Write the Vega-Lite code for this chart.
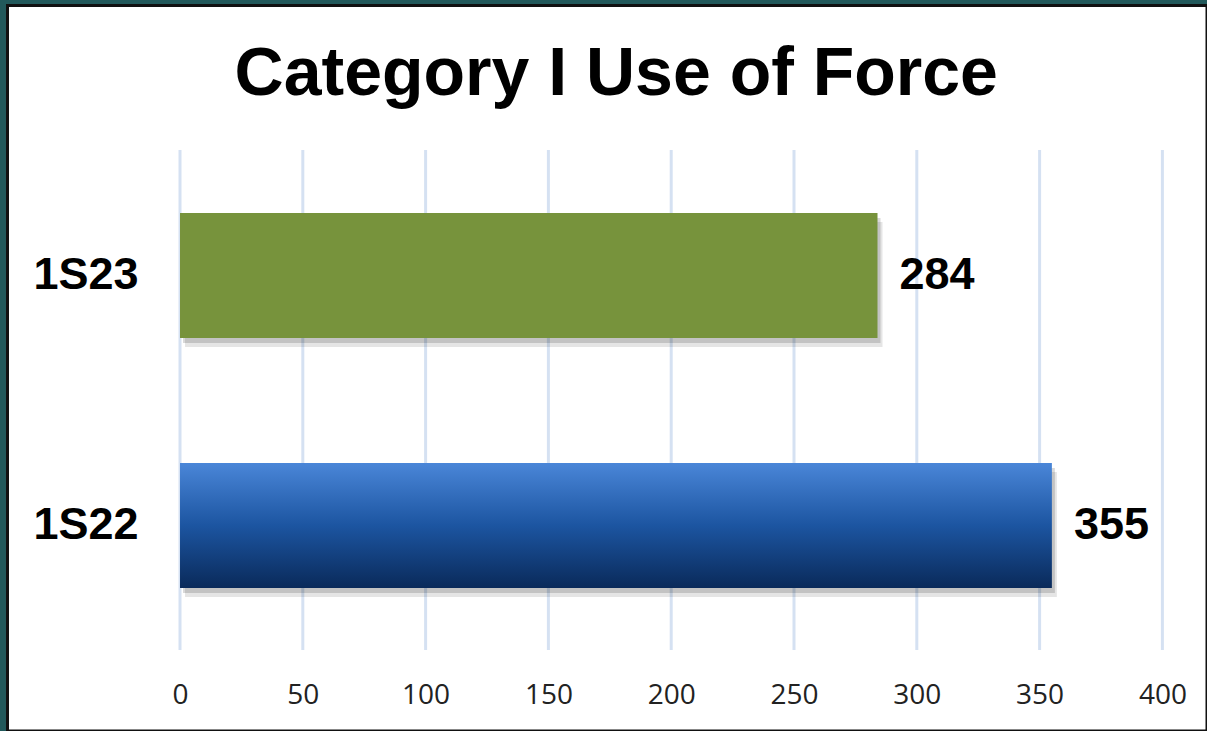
{
  "$schema": "https://vega.github.io/schema/vega-lite/v6.json",
  "width": 1199.5,
  "height": 725.5,
  "autosize": {"type": "none"},
  "padding": {"left": 7.5, "top": 5.5, "right": 0, "bottom": 0},
  "background": "#22595B",
  "title": {
    "text": "Category I Use of Force",
    "font": "Liberation Sans",
    "fontSize": 68,
    "fontWeight": "bold",
    "color": "#000000",
    "anchor": "middle",
    "frame": "group",
    "baseline": "alphabetic",
    "offset": -157,
    "dx": 9
  },
  "config": {
    "view": {"fill": "#FFFFFF", "stroke": "#111111", "strokeWidth": 3},
    "axisX": {"domain": false, "ticks": false, "tickSize": 0, "grid": false, "labelFont": "Open Sans", "labelFontSize": 28, "labelColor": "#222222", "labelPadding": 0, "labelBaseline": "middle"},
    "axisY": {"domain": false, "ticks": false, "tickSize": 0, "grid": false}
  },
  "data": {"values": [
    {"period": "1S23", "count": 284},
    {"period": "1S22", "count": 355}
  ]},
  "layer": [
    {
      "data": {"values": [
        {"tick": 0}, {"tick": 50}, {"tick": 100}, {"tick": 150}, {"tick": 200},
        {"tick": 250}, {"tick": 300}, {"tick": 350}, {"tick": 400}
      ]},
      "mark": {"type": "rule", "color": "#D5E1F2", "strokeWidth": 3},
      "encoding": {
        "x": {"field": "tick", "type": "quantitative",
              "scale": {"domain": [-70.24, 418.16], "nice": false, "zero": false},
              "axis": {"values": [0, 50, 100, 150, 200, 250, 300, 350, 400], "title": null, "offset": -36}},
        "y": {"datum": 0, "type": "quantitative", "scale": {"domain": [-0.162, 1.289], "nice": false, "zero": false}, "axis": null},
        "y2": {"datum": 1}
      }
    },
    {
      "encoding": {
        "y": {"field": "period", "type": "nominal",
              "scale": {"domain": ["1S23", "1S22"], "paddingInner": 0.5, "paddingOuter": 0.701, "align": 0.592, "round": false},
              "axis": {"title": null, "offset": -130.5, "labelFont": "Liberation Sans", "labelFontSize": 45, "labelFontWeight": "bold", "labelColor": "#000000", "labelPadding": 0, "labelAlign": "right", "labelBaseline": "middle"}},
        "x": {"field": "count", "type": "quantitative",
              "axis": {"values": [0, 50, 100, 150, 200, 250, 300, 350, 400], "title": null, "offset": -36}}
      },
      "layer": [
        {"mark": {"type": "bar", "color": "#000000", "opacity": 0.1, "xOffset": 5, "yOffset": 9}},
        {"mark": {"type": "bar", "color": "#000000", "opacity": 0.15, "xOffset": 3, "yOffset": 5}},
        {
          "transform": [{"filter": "datum.period === '1S23'"}],
          "mark": {"type": "bar", "color": "#77933C"}
        },
        {
          "transform": [{"filter": "datum.period === '1S22'"}],
          "mark": {"type": "bar", "color": {"gradient": "linear", "x1": 0, "y1": 0, "x2": 0, "y2": 1,
            "stops": [{"offset": 0, "color": "#4A86D8"}, {"offset": 0.5, "color": "#1C55A1"}, {"offset": 1, "color": "#0A2A5A"}]}}
        },
        {
          "mark": {"type": "text", "font": "Liberation Sans", "fontSize": 45, "fontWeight": "bold", "color": "#000000", "align": "left", "baseline": "middle", "dx": 22},
          "encoding": {"text": {"field": "count", "type": "quantitative"}}
        }
      ]
    }
  ],
  "resolve": {"scale": {"y": "independent"}, "axis": {"y": "independent"}}
}
